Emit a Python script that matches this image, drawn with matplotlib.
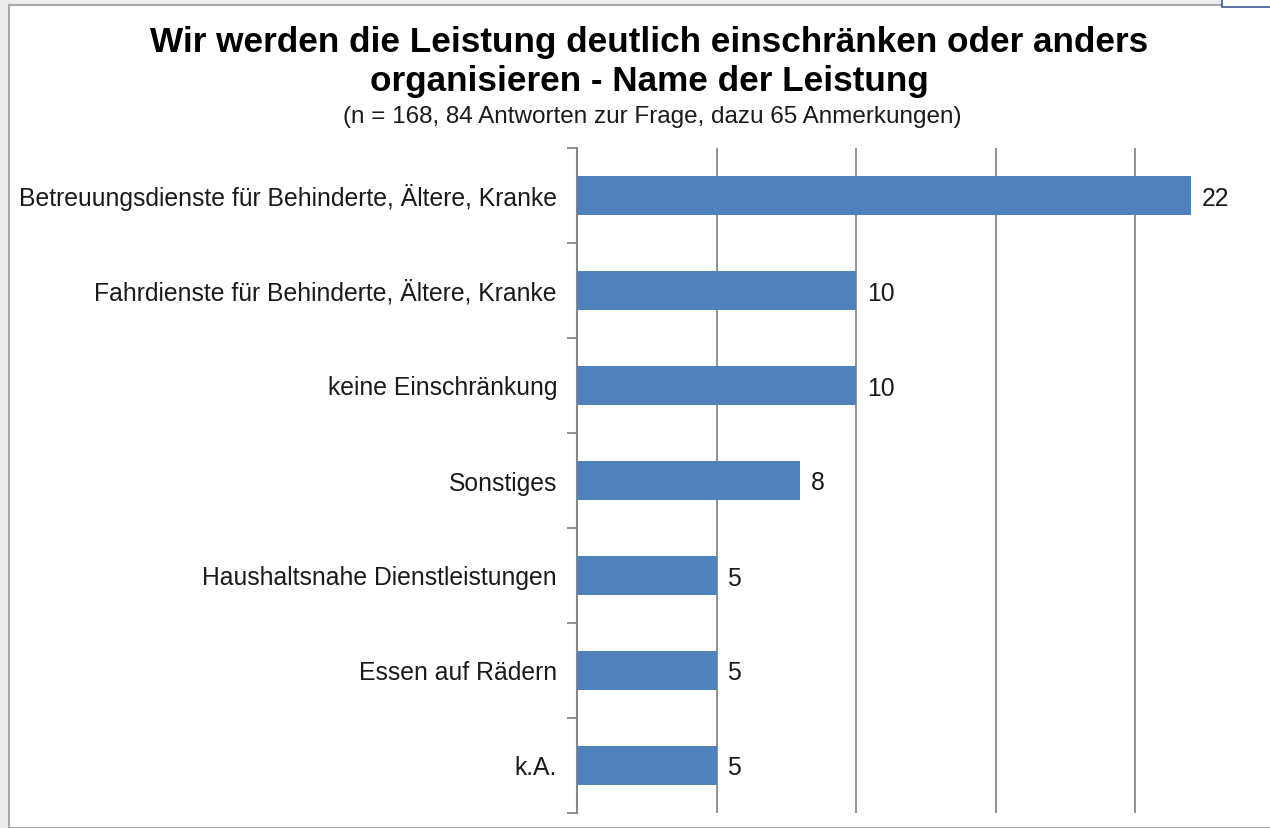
import matplotlib
matplotlib.use("Agg")
import matplotlib.pyplot as plt
from matplotlib.patches import Rectangle
from matplotlib.transforms import ScaledTranslation, blended_transform_factory
import numpy as np

plt.rcParams['font.family'] = ['Liberation Sans', 'DejaVu Sans']

categories = [
    "Betreuungsdienste für Behinderte, Ältere, Kranke",
    "Fahrdienste für Behinderte, Ältere, Kranke",
    "keine Einschränkung",
    "Sonstiges",
    "Haushaltsnahe Dienstleistungen",
    "Essen auf Rädern",
    "k.A.",
]
values = [22, 10, 10, 8, 5, 5, 5]
grid_ticks = [5, 10, 15, 20]

title_lines = ["Wir werden die Leistung deutlich einschränken oder anders",
               "organisieren - Name der Leistung"]
subtitle = "(n = 168, 84 Antworten zur Frage, dazu 65 Anmerkungen)"

W, H = 1270, 829
fig = plt.figure(figsize=(W / 100, H / 100), dpi=100)
fig.patch.set_facecolor("#ededed")

# white panel with grey border
fig.patches.append(Rectangle((9 / W, 0), 1.2, 1 - 6 / H, transform=fig.transFigure,
                             facecolor="white", edgecolor="#a8a8a8", linewidth=1.5, zorder=0))
# small box at top right
fig.patches.append(Rectangle((1222 / W, 1 - 8 / H), 60 / W, 20 / H, transform=fig.transFigure,
                             facecolor="white", edgecolor="#3d5f8f", linewidth=1.2, zorder=1))

left_px, right_px = 577, 1270
top_px, bot_px = 149, 814
ax = fig.add_axes([left_px / W, 1 - bot_px / H, (right_px - left_px) / W, (bot_px - top_px) / H])
ax.set_facecolor("none")
ax.set_zorder(5)

unit_px = (1135 - 577) / 20.0
ax.set_xlim(0, (right_px - left_px) / unit_px)
n = len(categories)
ax.set_ylim(n - 0.5, -0.5)

y = np.arange(n)
ax.barh(y, values, height=0.41, color="#4f81bd", zorder=3)

fs = 17.8
for yi, v in zip(y, values):
    ax.text(v, yi, str(v), va="baseline", ha="left", fontsize=fs, color="#1a1a1a",
            transform=ax.transData + ScaledTranslation(11 / 100, -9 / 100, fig.dpi_scale_trans))

lab_tr = blended_transform_factory(ax.transAxes, ax.transData) + \
    ScaledTranslation(-20 / 100, -9 / 100, fig.dpi_scale_trans)
for yi, c in zip(y, categories):
    ax.text(0, yi, c, va="baseline", ha="right", fontsize=fs, color="#1a1a1a",
            transform=lab_tr, clip_on=False)

ax.set_xticks(grid_ticks)
ax.set_xticklabels([])
ax.tick_params(axis="x", length=0)
ax.grid(axis="x", color="#888888", linewidth=1.3, zorder=1)
ax.set_axisbelow(True)

ax.set_yticks(np.arange(-0.5, n, 1.0))
ax.set_yticklabels([])
ax.tick_params(axis="y", which="major", length=7, width=1.3, color="#888888", direction="out")

for s in ["top", "right", "bottom"]:
    ax.spines[s].set_visible(False)
ax.spines["left"].set_color("#888888")
ax.spines["left"].set_linewidth(1.5)

fig.text(649 / W, 1 - 52 / H, title_lines[0], ha="center", va="baseline", fontsize=25.3,
         fontweight="bold", color="black", zorder=6)
fig.text(649 / W, 1 - 91 / H, title_lines[1], ha="center", va="baseline", fontsize=25.3,
         fontweight="bold", color="black", zorder=6)
fig.text(652 / W, 1 - 123 / H, subtitle, ha="center", va="baseline", fontsize=17.5,
         color="#1a1a1a", zorder=6)

fig.savefig("out.png", dpi=100, facecolor=fig.get_facecolor())
